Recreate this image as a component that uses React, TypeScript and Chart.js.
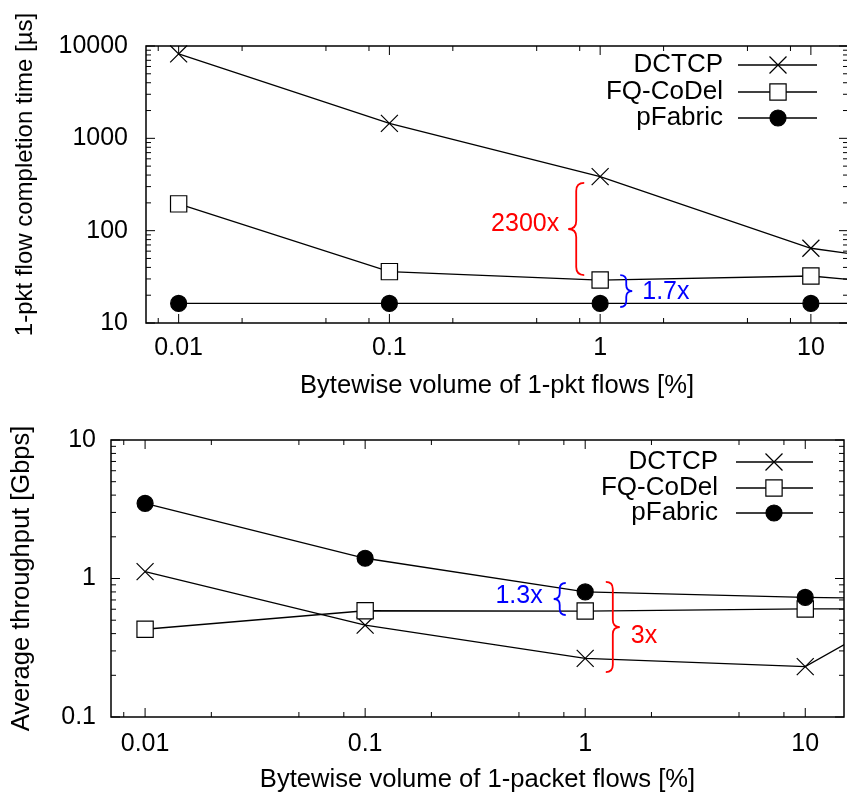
import React, { useEffect, useRef } from 'react';
import { Chart, registerables } from 'chart.js';
import { drawPoint } from 'chart.js/helpers';

Chart.register(...registerables);
Chart.defaults.font.family = "'Liberation Sans', Arial, Helvetica, sans-serif";

// ---------- data ----------
const seriesNames = ['DCTCP', 'FQ-CoDel', 'pFabric'];
const xValues = [0.01, 0.1, 1, 10, 20];

const fctDctcp = [8200, 1450, 385, 64.5, 52];
const fctFqCodel = [195, 36, 29.2, 32.3, 28];
const fctPfabric = [16.3, 16.3, 16.3, 16.3, 16.3];

const tputDctcp = [1.12, 0.46, 0.265, 0.231, 0.43];
const tputFqCodel = [0.43, 0.585, 0.582, 0.603, 0.605];
const tputPfabric = [3.49, 1.4, 0.8, 0.73, 0.72];

const xMajorTicks = [0.01, 0.1, 1, 10];
const xTickLabels = ['0.01', '0.1', '1', '10'];
const xMinorMultipliers = [2, 5, 8];

const fctTickValues = [10, 100, 1000, 10000];
const fctTickLabels = ['10', '100', '1000', '10000'];
const tputTickValues = [0.1, 1, 10];
const tputTickLabels = ['0.1', '1', '10'];
const yMinorMultipliers = [2, 3, 4, 5, 6, 7, 8, 9];

const topXTitle = 'Bytewise volume of 1-pkt flows [%]';
const topYTitle = '   1-pkt flow completion time [\u00b5s]';
const botXTitle = 'Bytewise volume of 1-packet flows [%]';
const botYTitle = 'Average throughput [Gbps]';

// ---------- styles ----------
const markers = [
  { pointStyle: 'crossRot', radius: 12, bg: '#000000' },
  { pointStyle: 'rect', radius: 11.5, bg: '#ffffff' },
  { pointStyle: 'circle', radius: 8, bg: '#000000' },
];
const FONT = 25;
const LEGEND_FONT = 26;
const XTITLE_FONT = 25.6;

function minorValues(min: number, max: number, mults: number[]) {
  const out: number[] = [];
  for (let e = Math.floor(Math.log10(min)) - 1; e <= Math.ceil(Math.log10(max)); e++) {
    const d = Math.pow(10, e);
    for (const m of mults) {
      const v = d * m;
      if (v > min && v < max) out.push(v);
    }
  }
  return out;
}

function drawBrace(ctx: CanvasRenderingContext2D, x: number, y1: number, y2: number, w: number, dir: number) {
  const ym = (y1 + y2) / 2;
  ctx.beginPath();
  ctx.moveTo(x - dir * w, y1);
  ctx.quadraticCurveTo(x, y1, x, y1 + w);
  ctx.lineTo(x, ym - w);
  ctx.quadraticCurveTo(x, ym, x + dir * w, ym);
  ctx.quadraticCurveTo(x, ym, x, ym + w);
  ctx.lineTo(x, y2 - w);
  ctx.quadraticCurveTo(x, y2, x - dir * w, y2);
  ctx.stroke();
}

function makePlugin(cfg: any) {
  return {
    id: 'gnuframe',
    beforeDatasetsDraw(chart: any) {
      const { ctx, chartArea } = chart;
      const { left, right, top, bottom } = chartArea;
      const xs = chart.scales.x;
      const ys = chart.scales.y;
      ctx.save();
      ctx.strokeStyle = '#000';
      ctx.lineWidth = 1;
      const seg = (a: number, b: number, c: number, d: number) => {
        ctx.beginPath();
        ctx.moveTo(a, b);
        ctx.lineTo(c, d);
        ctx.stroke();
      };
      for (const v of xMajorTicks) {
        const p = xs.getPixelForValue(v);
        seg(p, bottom, p, bottom - 9);
        seg(p, top, p, top + 9);
      }
      for (const v of minorValues(xs.min, xs.max, xMinorMultipliers)) {
        const p = xs.getPixelForValue(v);
        seg(p, bottom, p, bottom - 5);
        seg(p, top, p, top + 5);
      }
      for (const v of cfg.yTicks) {
        const p = ys.getPixelForValue(v);
        seg(left, p, left + 9, p);
        seg(right, p, right - 9, p);
      }
      for (const v of minorValues(ys.min, ys.max, yMinorMultipliers)) {
        const p = ys.getPixelForValue(v);
        seg(left, p, left + 5, p);
        seg(right, p, right - 5, p);
      }
      ctx.lineWidth = 1.5;
      ctx.strokeRect(left, top, right - left, bottom - top);
      ctx.restore();
    },
    afterDatasetsDraw(chart: any) {
      const { ctx, chartArea } = chart;
      const xs = chart.scales.x;
      const ys = chart.scales.y;
      ctx.save();
      // legend
      const lg = cfg.legend;
      ctx.font = `${LEGEND_FONT}px 'Liberation Sans', Arial, sans-serif`;
      ctx.textBaseline = 'middle';
      seriesNames.forEach((name, i) => {
        const y = chartArea.top + lg.rows[i];
        ctx.fillStyle = '#000';
        ctx.textAlign = 'right';
        ctx.fillText(name, chartArea.right + lg.textRight, y);
        ctx.strokeStyle = '#000';
        ctx.lineWidth = 1.3;
        ctx.beginPath();
        ctx.moveTo(chartArea.right + lg.lineStart, y);
        ctx.lineTo(chartArea.right + lg.lineEnd, y);
        ctx.stroke();
        ctx.fillStyle = markers[i].bg;
        ctx.lineWidth = 1.2;
        drawPoint(ctx, { pointStyle: markers[i].pointStyle as any, radius: markers[i].radius, rotation: 0, borderWidth: 1.2 } as any,
          chartArea.right + lg.marker, y);
      });
      // braces
      ctx.font = `${FONT}px 'Liberation Sans', Arial, sans-serif`;
      for (const b of cfg.braces) {
        const x = xs.getPixelForValue(b.x);
        const y1 = ys.getPixelForValue(b.y1);
        const y2 = ys.getPixelForValue(b.y2);
        ctx.strokeStyle = b.color;
        ctx.lineWidth = 1.8;
        drawBrace(ctx, x, y1, y2, b.w, b.dir);
        ctx.fillStyle = b.color;
        ctx.textAlign = b.dir < 0 ? 'right' : 'left';
        const tx = x + b.dir * (b.w + b.gap);
        ctx.fillText(b.text, tx, (y1 + y2) / 2 + b.dy);
      }
      ctx.restore();
    },
  };
}

function makeConfig(p: any) {
  const series = p.series as number[][];
  return {
    type: 'line',
    data: {
      datasets: series.map((vals, i) => ({
        label: seriesNames[i],
        data: xValues.map((x, j) => ({ x, y: vals[j] })),
        borderColor: '#000',
        borderWidth: 1.3,
        backgroundColor: markers[i].bg,
        pointStyle: markers[i].pointStyle,
        pointRadius: markers[i].radius,
        pointBackgroundColor: markers[i].bg,
        pointBorderColor: '#000',
        pointBorderWidth: 1.2,
        tension: 0,
        fill: false,
        order: 3 - i,
        clip: { left: 20, top: 20, right: 0, bottom: 20 },
      })),
    },
    options: {
      responsive: false,
      animation: false,
      events: [],
      layout: { padding: { left: 0, top: p.padTop, right: p.padRight, bottom: 0 } },
      plugins: { legend: { display: false }, tooltip: { enabled: false } },
      scales: {
        x: {
          type: 'logarithmic',
          position: 'bottom',
          min: 0.007,
          max: 15,
          grid: { display: false, drawTicks: false },
          border: { display: false },
          ticks: {
            autoSkip: false,
            maxRotation: 0,
            padding: p.xTickPad,
            color: '#000',
            font: { size: FONT },
            callback: (_v: any, idx: number) => xTickLabels[idx],
          },
          afterBuildTicks: (s: any) => {
            s.ticks = xMajorTicks.map((v) => ({ value: v }));
          },
          afterFit: (s: any) => {
            s.height = p.xHeight;
          },
          title: {
            display: true,
            text: p.xTitle,
            color: '#000',
            font: { size: XTITLE_FONT },
            padding: { top: 0, bottom: p.xTitlePad },
          },
        },
        y: {
          type: 'logarithmic',
          position: 'left',
          min: p.yTicks[0],
          max: p.yTicks[p.yTicks.length - 1],
          grid: { display: false, drawTicks: false },
          border: { display: false },
          ticks: {
            autoSkip: false,
            padding: p.yTickPad,
            color: '#000',
            font: { size: FONT },
            callback: (_v: any, idx: number) => p.yLabels[idx],
          },
          afterBuildTicks: (s: any) => {
            s.ticks = p.yTicks.map((v: number) => ({ value: v }));
          },
          afterFit: (s: any) => {
            s.width = p.yWidth;
          },
          title: {
            display: true,
            text: p.yTitle,
            color: '#000',
            font: { size: p.yTitleFont },
            padding: { top: p.yTitlePad, bottom: 0 },
          },
        },
      },
    },
    plugins: [makePlugin({ yTicks: p.yTicks, legend: p.legend, braces: p.braces })],
  };
}

const topParams = {
  series: [fctDctcp, fctFqCodel, fctPfabric],
  yTicks: fctTickValues,
  yLabels: fctTickLabels,
  xTitle: topXTitle,
  yTitle: topYTitle,
  yTitleFont: 24,
  padTop: 46,
  padRight: 22,
  xHeight: 77,
  yWidth: 146,
  xTickPad: 10,
  xTitlePad: -1,
  yTickPad: 18,
  yTitlePad: 11,
  legend: { textRight: -125, lineStart: -110, lineEnd: -31, marker: -70, rows: [19, 46, 72] },
  braces: [
    { x: 0.77, y1: 329, y2: 33, dir: -1, w: 8, gap: 9, dy: -5, color: '#ff0000', text: '2300x' },
    { x: 1.33, y1: 33, y2: 14.9, dir: 1, w: 6, gap: 10, dy: 1, color: '#0000ff', text: '1.7x' },
  ],
};

const botParams = {
  series: [tputDctcp, tputFqCodel, tputPfabric],
  yTicks: tputTickValues,
  yLabels: tputTickLabels,
  xTitle: botXTitle,
  yTitle: botYTitle,
  yTitleFont: 25.5,
  padTop: 40,
  padRight: 26,
  xHeight: 80,
  yWidth: 111,
  xTickPad: 12,
  xTitlePad: 2,
  yTickPad: 15,
  yTitlePad: 7,
  legend: { textRight: -126, lineStart: -108, lineEnd: -31, marker: -70, rows: [22, 48, 73] },
  braces: [
    { x: 0.766, y1: 0.928, y2: 0.545, dir: -1, w: 6, gap: 11, dy: -3, color: '#0000ff', text: '1.3x' },
    { x: 1.335, y1: 0.944, y2: 0.211, dir: 1, w: 7, gap: 11, dy: 9, color: '#ff0000', text: '3x' },
  ],
};

export default function App() {
  const topRef = useRef<HTMLCanvasElement>(null);
  const botRef = useRef<HTMLCanvasElement>(null);
  useEffect(() => {
    const c1 = new Chart(topRef.current as HTMLCanvasElement, makeConfig(topParams) as any);
    const c2 = new Chart(botRef.current as HTMLCanvasElement, makeConfig(botParams) as any);
    return () => {
      c1.destroy();
      c2.destroy();
    };
  }, []);
  return (
    <div style={{ position: 'absolute', left: 0, top: 0, width: 847, height: 797, overflow: 'hidden', background: '#fff' }}>
      <canvas ref={topRef} width={870} height={400} style={{ position: 'absolute', left: 0, top: 0, width: 870, height: 400 }} />
      <canvas ref={botRef} width={870} height={397} style={{ position: 'absolute', left: 0, top: 400, width: 870, height: 397 }} />
    </div>
  );
}
